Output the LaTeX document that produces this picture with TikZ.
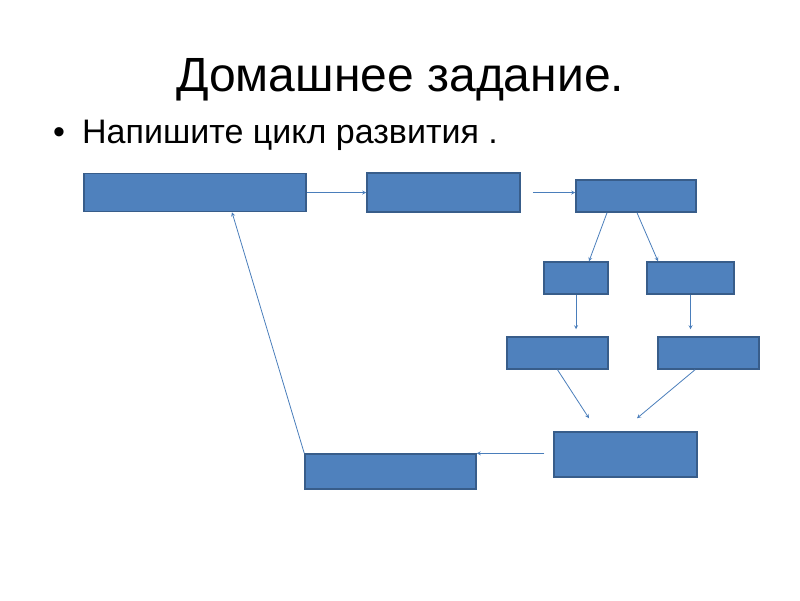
\documentclass[tikz,border=0pt]{standalone}
\usepackage{fontspec}
\setmainfont{Liberation Sans}
\definecolor{boxblue}{HTML}{4F81BD}
\definecolor{boxedge}{HTML}{385D8A}
\definecolor{arrowblue}{HTML}{4A7EBB}
\tikzset{
  blok/.style={rectangle,fill=boxblue,draw=boxedge,line width=1.5pt,inner sep=0pt},
  strelka/.style={->,>=stealth,draw=arrowblue,line width=0.8pt}
}
\begin{document}
\begin{tikzpicture}[x=1pt,y=-1pt]
\useasboundingbox (0,0) rectangle (800,600);
% heading
\node[anchor=base west,inner sep=0pt,font=\fontsize{48}{56}\selectfont] (title) at (176,91) {Домашнее задание.};
\node[anchor=base west,inner sep=0pt,font=\fontsize{34}{40}\selectfont] (dot) at (53,143) {•};
\node[anchor=base west,inner sep=0pt,font=\fontsize{34}{40}\selectfont] (task) at (82,143) {Напишите цикл развития .};
% boxes
\node[blok,minimum width=222,minimum height=38] (a) at (195,192.5) {};
\node[blok,minimum width=153,minimum height=39] (b) at (443.5,192.5) {};
\node[blok,minimum width=120,minimum height=32] (c) at (636,196) {};
\node[blok,minimum width=64,minimum height=32] (d) at (576,278) {};
\node[blok,minimum width=87,minimum height=32] (e) at (690.5,278) {};
\node[blok,minimum width=101,minimum height=32] (f) at (557.5,353) {};
\node[blok,minimum width=101,minimum height=32] (g) at (708.5,353) {};
\node[blok,minimum width=143,minimum height=45] (h) at (625.5,454.5) {};
\node[blok,minimum width=171,minimum height=35] (i) at (390.5,471.5) {};
% arrows
\draw[strelka] (a.east) -- (b.west);
\draw[strelka] ([xshift=12]b.east) -- (b.east -| c.west);
\draw[strelka] ([xshift=-29]c.south) -- ([xshift=13]d.north);
\draw[strelka] ([xshift=1]c.south) -- ([xshift=-32.5]e.north);
\draw[strelka] (d.south) -- ([yshift=7]f.north -| d.south);
\draw[strelka] (e.south) -- ([yshift=7]g.north -| e.south);
\draw[strelka] (f.south) -- ([xshift=-36.5,yshift=13]h.north);
\draw[strelka] ([xshift=-13.5]g.south) -- ([xshift=11.5,yshift=13]h.north);
\draw[strelka] ([xshift=-9]h.west |- i.north) -- (i.north east);
\draw[strelka] (i.north west) -- ([xshift=37]a.south);
\end{tikzpicture}
\end{document}
